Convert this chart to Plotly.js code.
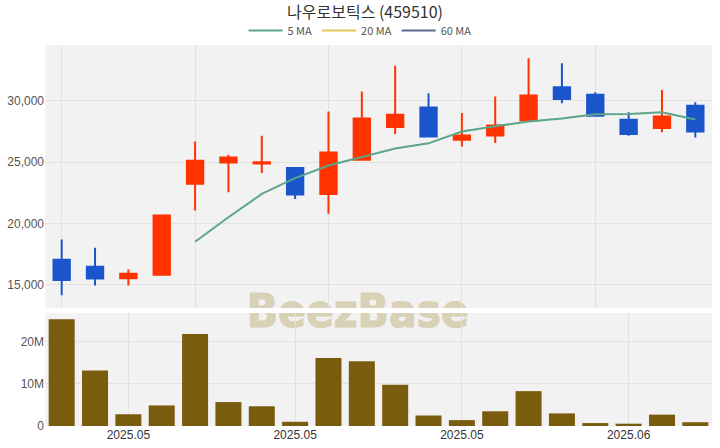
<!DOCTYPE html>
<html>
<head>
<meta charset="utf-8">
<script src="https://cdn.plot.ly/plotly-3.0.1.min.js"></script>
<style>html,body{margin:0;padding:0;background:#fff;}#chart{width:720px;height:448px;}</style>
</head>
<body>
<div id="chart"></div>
<script>
const dates = ['2025-05-08','2025-05-09','2025-05-12','2025-05-13','2025-05-14','2025-05-15','2025-05-16','2025-05-19','2025-05-20','2025-05-21','2025-05-22','2025-05-23','2025-05-26','2025-05-27','2025-05-28','2025-05-29','2025-05-30','2025-06-02','2025-06-04','2025-06-05'];
const openP  = [17050,16480,15550,15830,23250,24980,24900,24530,22410,25200,27860,29460,26840,27180,28400,31110,30490,28450,27780,29590];
const highP  = [18700,18020,16260,20650,26690,25610,27150,24550,29130,30760,32850,30620,29000,30350,33470,33060,30700,29080,30890,29890];
const lowP   = [14150,14960,14960,15830,21060,22550,24120,22010,20810,25200,27290,27100,26290,26560,28400,29810,28780,27150,27450,27020];
const closeP = [15400,15530,15910,20650,25120,25390,25000,22360,25800,28560,28860,27100,27180,27990,30430,30140,28780,27290,28720,27500];
const volume = [25.4e6,13.2e6,2.8e6,4.9e6,21.9e6,5.7e6,4.7e6,1.0e6,16.2e6,15.4e6,9.8e6,2.5e6,1.4e6,3.5e6,8.3e6,3.0e6,0.7e6,0.55e6,2.7e6,0.9e6];
const priceTickVals = [15000,20000,25000,30000];
const volTickVals = [0,10e6,20e6];
const volTickText = ['0','10M','20M'];
const priceGridIdx = [0,4,8,12,16];
const labelIdx = [2,7,12,17];

function movingAvg(arr, n){
  return arr.map((v,i)=>{
    if(i < n-1) return null;
    let s=0; for(let k=i-n+1;k<=i;k++) s+=arr[k];
    return s/n;
  });
}
const ma5 = movingAvg(closeP,5);
const ma20 = movingAvg(closeP,20);
const ma60 = movingAvg(closeP,60);

const RED = '#ff3200', BLUE = '#1a55cc';

const traces = [
  {type:'candlestick', x:dates, open:openP, high:highP, low:lowP, close:closeP,
   xaxis:'x', yaxis:'y', showlegend:false, hoverinfo:'skip',
   increasing:{line:{color:RED,width:2}, fillcolor:RED},
   decreasing:{line:{color:BLUE,width:2}, fillcolor:BLUE}},
  {type:'scatter', mode:'lines', x:dates, y:ma5, name:'5 MA', line:{color:'#5ba58a',width:2}, xaxis:'x', yaxis:'y'},
  {type:'scatter', mode:'lines', x:dates, y:ma20, name:'20 MA', line:{color:'#e3c75a',width:2}, xaxis:'x', yaxis:'y'},
  {type:'scatter', mode:'lines', x:dates, y:ma60, name:'60 MA', line:{color:'#5a6888',width:2}, xaxis:'x', yaxis:'y'},
  {type:'bar', x:dates, y:volume, marker:{color:'#7a5c0f'}, showlegend:false, xaxis:'x2', yaxis:'y2', hoverinfo:'skip'}
];

const wm = "data:image/svg+xml;charset=utf-8," + encodeURIComponent(
  '<svg xmlns="http://www.w3.org/2000/svg" width="260" height="60" viewBox="0 0 260 60">' +
  '<text x="19" y="47" textLength="222" lengthAdjust="spacingAndGlyphs" font-family="DejaVu Sans, sans-serif" font-weight="bold" font-size="46" fill="rgb(216,209,182)" stroke="rgb(216,209,182)" stroke-width="1.2">BeezBase</text></svg>');

const layout = {
  width:720, height:448,
  margin:{l:45, r:8, t:45, b:22},
  paper_bgcolor:'#ffffff', plot_bgcolor:'#f2f2f2',
  font:{family:'Liberation Sans, Arial, sans-serif', color:'#444'},
  title:{text:'나우로보틱스 (459510)', x:0.507, xanchor:'center', y:0.972, yanchor:'middle', yref:'container',
         font:{family:'Noto Sans CJK KR, sans-serif', size:16, color:'#333'}},
  showlegend:true,
  legend:{orientation:'h', x:0.4723, xanchor:'center', y:1.038, yanchor:'middle', itemwidth:34,
          font:{size:11, color:'#555', family:'Noto Sans CJK KR, sans-serif'}, bgcolor:'rgba(0,0,0,0)'},
  xaxis:{type:'category', domain:[0,1], anchor:'y', tickvals:priceGridIdx.map(i=>dates[i]), showticklabels:false,
         showgrid:true, gridcolor:'#e2e2e2', zeroline:false, rangeslider:{visible:false}, range:[-0.5, dates.length-0.5], fixedrange:true},
  yaxis:{domain:[0.31,1], range:[13130,34550], tickvals:priceTickVals, tickformat:',', showgrid:true, gridcolor:'#e2e2e2',
         zeroline:false, tickfont:{size:12, color:'#555'}, ticks:'', fixedrange:true},
  xaxis2:{type:'category', domain:[0,1], anchor:'y2', tickvals:labelIdx.map(i=>dates[i]),
          ticktext:labelIdx.map(i=>dates[i].slice(0,7).replace('-','.')), showgrid:true, gridcolor:'#e2e2e2',
          zeroline:false, range:[-0.5, dates.length-0.5], tickfont:{size:12, color:'#333'}, ticks:'', fixedrange:true},
  yaxis2:{domain:[0,0.2966], range:[0,26.9e6], tickvals:volTickVals, ticktext:volTickText, showgrid:true, gridcolor:'#e2e2e2',
          zeroline:false, tickfont:{size:12, color:'#555'}, ticks:'', fixedrange:true},
  bargap:0.22,
  images:[{source:wm, xref:'paper', yref:'paper', x:0.469, y:0.304, sizex:0.39, sizey:0.1575, sizing:'stretch',
           xanchor:'center', yanchor:'middle', layer:'below'}],
  shapes:[{type:'rect', xref:'paper', yref:'paper', x0:0, x1:1, y0:0.2966, y1:0.31, fillcolor:'#ffffff', line:{width:0}, layer:'below'}]
};

Plotly.newPlot('chart', traces, layout, {displayModeBar:false, staticPlot:true});
</script>
</body>
</html>
